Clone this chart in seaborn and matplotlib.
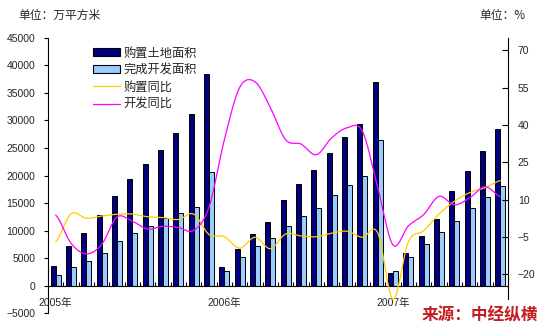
import numpy as np
import pandas as pd
import matplotlib
matplotlib.use("Agg")
import matplotlib.pyplot as plt
import seaborn as sns
from matplotlib.patches import Patch
from matplotlib.lines import Line2D

# ---------------- data ----------------
months = ([f"2005-{m:02d}" for m in range(2, 13)]
          + [f"2006-{m:02d}" for m in range(2, 13)]
          + [f"2007-{m:02d}" for m in range(2, 10)])

land_area = [3600, 7250, 9650, 12750, 16350, 19400, 22000, 24700, 27650, 31100, 38350,
             3450, 6700, 9300, 11600, 15600, 18500, 21050, 24100, 26900, 29400, 36900,
             2400, 6000, 9100, 12150, 17150, 20850, 24400, 28400]
dev_area = [2000, 3450, 4550, 6000, 8170, 9620, 10900, 12200, 13250, 14350, 20700,
            2700, 5250, 7250, 8700, 10900, 12700, 14100, 16400, 18350, 19850, 26500,
            2600, 5300, 7650, 9800, 11800, 14150, 16150, 18150]
land_yoy = [-6.9, 4.3, 2.5, 3.4, 4.1, 4.2, 3.1, 2.8, 2.0, 4.2, -4.0,
            -4.9, -9.5, -5.1, -9.7, -3.8, -4.6, -4.9, -3.5, -2.7, -5.1, -3.3,
            -30.0, -7.0, -2.5, 4.2, 9.3, 12.8, 14.8, 17.6]
dev_yoy = [3.8, -7.5, -11.8, -8.0, 3.0, 1.3, -1.8, -0.7, -1.2, -2.4, 7.0,
           34.0, 55.0, 57.3, 47.0, 34.0, 32.3, 28.0, 34.8, 38.8, 37.5, 15.0,
           -8.2, -0.6, 4.0, 11.3, 7.9, 10.7, 15.2, 11.2]

series_names = ["购置土地面积", "完成开发面积", "购置同比", "开发同比"]
year_labels = ["2005年", "2006年", "2007年"]
year_pos = [0, 11, 22]

NAVY = "#000080"
LIGHT = "#99CCFF"
YELLOW = "#FFCC00"
MAGENTA = "#FF00FF"

df = pd.DataFrame({
    "month": months * 2,
    "area": land_area + dev_area,
    "series": [series_names[0]] * len(months) + [series_names[1]] * len(months),
})


def smooth(y, n=24):
    """Excel-style smoothed line (uniform Catmull-Rom) through the points."""
    y = np.asarray(y, float)
    p = np.concatenate([[y[0]], y, [y[-1]]])
    xs, ys = [], []
    t = np.linspace(0, 1, n, endpoint=False)
    for i in range(len(y) - 1):
        p0, p1, p2, p3 = p[i], p[i + 1], p[i + 2], p[i + 3]
        ys.append(0.5 * (2 * p1 + (-p0 + p2) * t
                         + (2 * p0 - 5 * p1 + 4 * p2 - p3) * t ** 2
                         + (-p0 + 3 * p1 - 3 * p2 + p3) * t ** 3))
        xs.append(i + t)
    xs.append([len(y) - 1])
    ys.append([y[-1]])
    return np.concatenate(xs), np.concatenate(ys)


# ---------------- style ----------------
sns.set_style("ticks")
plt.rcParams["font.family"] = ["Liberation Sans", "Noto Sans CJK SC", "DejaVu Sans"]
plt.rcParams["axes.linewidth"] = 0.8

fig = plt.figure(figsize=(5.43, 3.27), dpi=100)
ax = fig.add_axes([48 / 543, 1 - 313.3 / 327, 460 / 543, 275.6 / 327])

sns.barplot(data=df, x="month", y="area", hue="series", order=months,
            hue_order=series_names[:2], palette=[NAVY, LIGHT], saturation=1,
            width=0.667, edgecolor="black", linewidth=0.7, legend=False, ax=ax)

ax.set_xlim(-0.5, len(months) - 0.5)
ax.set_ylim(-5000, 45000)
ax.set_yticks(range(-5000, 45001, 5000))
ax.set_xlabel("")
ax.set_ylabel("")
ax.spines["top"].set_visible(False)
ax.spines["right"].set_visible(False)
ax.spines["bottom"].set_position(("data", 0))
ax.spines["left"].set_color("black")
ax.spines["bottom"].set_color("black")

ax.set_xticks(np.arange(0.5, len(months) - 1, 1))
ax.set_xticklabels([])
ax.tick_params(axis="x", which="major", direction="in", length=3, width=0.8, color="black")
ax.set_xticks(year_pos, minor=True)
ax.set_xticklabels(year_labels, minor=True)
ax.tick_params(axis="x", which="minor", length=0, pad=9, labelsize=7.5)
ax.tick_params(axis="y", direction="out", length=3, width=0.8, pad=6,
               labelsize=7.5, color="black")

ax2 = ax.twinx()
xs, ys = smooth(land_yoy)
ax2.plot(xs, ys, color=YELLOW, lw=0.9)
xs, ys = smooth(dev_yoy)
ax2.plot(xs, ys, color=MAGENTA, lw=0.9)
ax2.set_ylim(-35.65, 75)
ax2.set_yticks(range(-20, 71, 15))
ax2.spines["right"].set_bounds(-30, 75)
ax2.spines["right"].set_color("black")
for s in ["top", "left", "bottom"]:
    ax2.spines[s].set_visible(False)
ax2.tick_params(axis="y", direction="in", length=4, width=0.8, pad=7,
                labelsize=7.5, color="black")

handles = [Patch(facecolor=NAVY, edgecolor="black", linewidth=0.8),
           Patch(facecolor=LIGHT, edgecolor="black", linewidth=0.8),
           Line2D([], [], color=YELLOW, lw=0.9),
           Line2D([], [], color=MAGENTA, lw=0.9)]
fig.legend(handles, series_names, loc="upper left",
           bbox_to_anchor=(93 / 543, 1 - 46.5 / 327), frameon=False,
           borderpad=0, borderaxespad=0, handlelength=2.2, handleheight=0.6,
           handletextpad=0.3, labelspacing=0.33,
           prop={"family": "Noto Sans CJK SC", "size": 8.8})

fig.text(18 / 543, 1 - 15 / 327, "单位：万平方米", ha="left", va="center",
         fontsize=8.5, family="Noto Sans CJK SC")
fig.text(526 / 543, 1 - 15 / 327, "单位：%", ha="right", va="center",
         fontsize=8.5, family="Noto Sans CJK SC")
fig.text(538 / 543, 1 - 315 / 327, "来源：中经纵横", ha="right", va="center",
         fontsize=12, fontweight="bold", color="#C41E24", family="Noto Sans CJK SC")

fig.savefig("out.png", dpi=100)
